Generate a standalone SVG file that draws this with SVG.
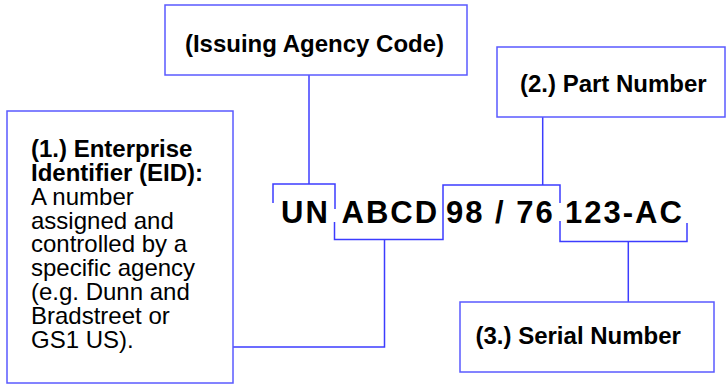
<svg xmlns="http://www.w3.org/2000/svg" width="726" height="384" viewBox="0 0 726 384">
<style>
.box{fill:#fff;stroke:#5a5aff;stroke-width:1.5}
.con{fill:none;stroke:#3c3cff;stroke-width:1.5}
.t{font-family:"Liberation Sans",Arial,sans-serif;font-size:24px;fill:#000}
.b{font-weight:bold}
.big{font-family:"Liberation Sans",Arial,sans-serif;font-size:31px;font-weight:bold;letter-spacing:2px;fill:#000}
</style>
<rect width="726" height="384" fill="#fff"/>
<g id="connectors">
<path class="con" d="M309,75 V184"/>
<path class="con" d="M273,203 V184 H335 V209"/>
<path class="con" d="M334.5,222 V239.5 H443 V185 H560 V203"/>
<path class="con" d="M560,221 V241.5 H687 V223"/>
<path class="con" d="M384.5,239.5 V347 H233"/>
<path class="con" d="M542.7,185 V117"/>
<path class="con" d="M628.3,241.5 V302"/>
</g>
<g id="issuing-agency">
<rect class="box" x="165" y="5" width="302" height="70"/>
<text class="t b" x="314.5" y="52" text-anchor="middle">(Issuing Agency Code)</text>
</g>
<g id="part-number">
<rect class="box" x="497" y="47" width="228" height="70"/>
<text class="t b" x="520" y="91.5">(2.) Part Number</text>
</g>
<g id="eid">
<rect class="box" x="7" y="111" width="226" height="272"/>
<text class="t" x="31">
<tspan class="b" x="31" y="157">(1.) Enterprise</tspan>
<tspan class="b" x="31" y="181">Identifier (EID):</tspan>
<tspan x="31" y="204.5">A number</tspan>
<tspan x="31" y="228.5">assigned and</tspan>
<tspan x="31" y="252">controlled by a</tspan>
<tspan x="31" y="276">specific agency</tspan>
<tspan x="31" y="299.5">(e.g. Dunn and</tspan>
<tspan x="31" y="323.5">Bradstreet or</tspan>
<tspan x="31" y="347.5">GS1 US).</tspan>
</text>
</g>
<g id="serial-number">
<rect class="box" x="460" y="302" width="254" height="70"/>
<text class="t b" x="475.5" y="344">(3.) Serial Number</text>
</g>
<g id="code">
<text class="big" x="281" y="222.5">UN</text>
<text class="big" x="341.5" y="222.5">ABCD</text>
<text class="big" x="446" y="222.5">98 / 76</text>
<text class="big" x="565" y="222.5">123-AC</text>
</g>
</svg>
